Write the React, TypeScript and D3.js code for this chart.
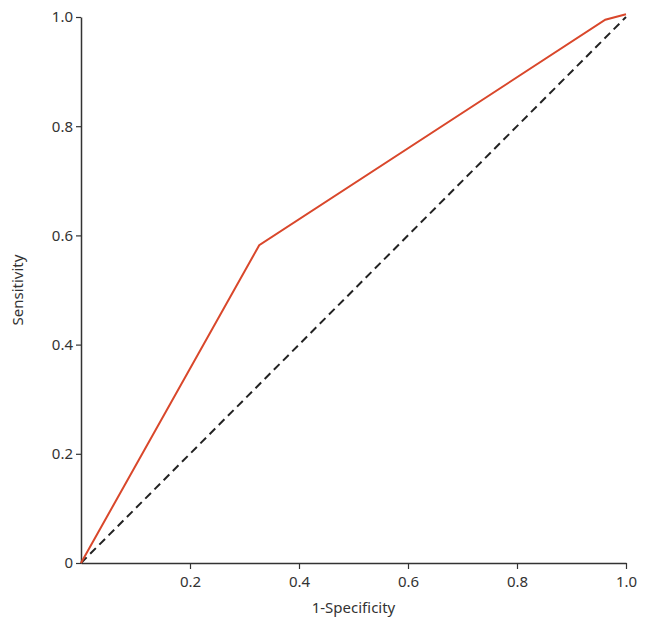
import React, { useEffect, useRef } from "react";
import * as d3 from "d3";

// ROC curve points
const fpr = [0, 0.327, 0.962, 1.0];
const tpr = [0, 0.582, 0.995, 1.005];
const refLine = [0, 1];
const xTicks = [0.2, 0.4, 0.6, 0.8, 1.0];
const yTicks = [0, 0.2, 0.4, 0.6, 0.8, 1.0];

const App = () => {
  const svgRef = useRef<SVGSVGElement>(null);

  useEffect(() => {
    const width = 648;
    const height = 633;
    const margin = { top: 17, right: 22, bottom: 70, left: 81 };
    const w = width - margin.left - margin.right;
    const h = height - margin.top - margin.bottom;

    const svg = d3.select(svgRef.current).attr("width", width).attr("height", height);
    svg.selectAll("*").remove();

    const g = svg.append("g").attr("transform", `translate(${margin.left},${margin.top})`);

    const x = d3.scaleLinear().domain([0, 1]).range([0, w]);
    const y = d3.scaleLinear().domain([0, 1]).range([h, 0]);

    const font = "'Noto Sans', sans-serif";

    // x axis
    const xAxis = g
      .append("g")
      .attr("transform", `translate(0,${h})`)
      .call(d3.axisBottom(x).tickValues(xTicks).tickFormat(d3.format(".1f")).tickSize(6).tickSizeOuter(0));
    xAxis.select(".domain").attr("stroke", "#333").attr("stroke-width", 1.5);
    xAxis.selectAll(".tick line").attr("stroke", "#333").attr("stroke-width", 1.2);
    xAxis
      .selectAll("text")
      .attr("fill", "#333")
      .style("font-family", font)
      .style("font-size", "15px")
      .attr("dy", "1.0em");

    // y axis
    const yAxis = g
      .append("g")
      .call(
        d3
          .axisLeft(y)
          .tickValues(yTicks)
          .tickFormat((d) => (d === 0 ? "0" : d3.format(".1f")(d as number)))
          .tickSize(5)
          .tickSizeOuter(0)
      );
    yAxis.select(".domain").attr("stroke", "#333").attr("stroke-width", 1.5);
    yAxis.selectAll(".tick line").attr("stroke", "#333").attr("stroke-width", 1.2);
    yAxis
      .selectAll("text")
      .attr("fill", "#333")
      .style("font-family", font)
      .style("font-size", "15px")
      .attr("x", -8);

    // reference diagonal
    g.append("path")
      .datum(refLine)
      .attr("fill", "none")
      .attr("stroke", "#222")
      .attr("stroke-width", 2)
      .attr("stroke-dasharray", "8,5")
      .attr(
        "d",
        d3
          .line<number>()
          .x((d) => x(d))
          .y((d) => y(d))
      );

    // ROC curve
    const pts = fpr.map((f, i) => [f, tpr[i]] as [number, number]);
    g.append("path")
      .datum(pts)
      .attr("fill", "none")
      .attr("stroke", "#d9472b")
      .attr("stroke-width", 2)
      .attr(
        "d",
        d3
          .line<[number, number]>()
          .x((d) => x(d[0]))
          .y((d) => y(d[1]))
      );

    // axis labels
    g.append("text")
      .attr("x", w / 2)
      .attr("y", h + 50)
      .attr("text-anchor", "middle")
      .attr("fill", "#333")
      .style("font-family", font)
      .style("font-size", "15px")
      .text("1-Specificity");

    g.append("text")
      .attr("transform", "rotate(-90)")
      .attr("x", -h / 2)
      .attr("y", -58)
      .attr("text-anchor", "middle")
      .attr("fill", "#333")
      .style("font-family", font)
      .style("font-size", "15px")
      .text("Sensitivity");
  }, []);

  return (
    <div style={{ position: "absolute", left: 0, top: 0 }}>
      <svg ref={svgRef}></svg>
    </div>
  );
};

export default App;
